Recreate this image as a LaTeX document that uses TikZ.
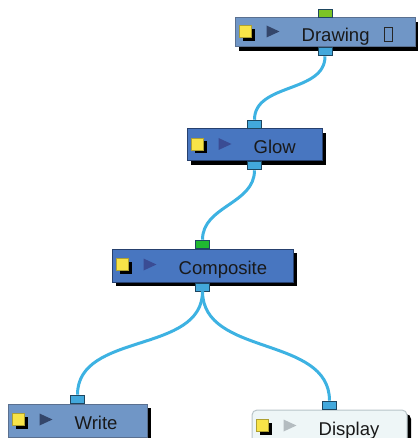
\documentclass[tikz,border=0pt]{standalone}
\usepackage{fontspec}
\setmainfont{Liberation Sans}
\usetikzlibrary{shadows,positioning}

\definecolor{modlight}{HTML}{7096C6}
\definecolor{moddark}{HTML}{4876C0}
\definecolor{modpale}{HTML}{EEF6F7}
\definecolor{edgelight}{HTML}{5A7090}
\definecolor{edgedark}{HTML}{26406E}
\definecolor{edgepale}{HTML}{B8C4C8}
\definecolor{wire}{HTML}{3DB2E2}
\definecolor{portblue}{HTML}{42A8DC}
\definecolor{portedge}{HTML}{1E4660}
\definecolor{portlime}{HTML}{7CC424}
\definecolor{portgreen}{HTML}{20B830}
\definecolor{swatchyellow}{HTML}{F8E448}
\definecolor{tridark}{HTML}{34466A}
\definecolor{triblue}{HTML}{3A4C94}
\definecolor{trigray}{HTML}{B4BCC0}

\begin{document}
\begin{tikzpicture}[x=1pt, y=-1pt, >=latex]
  % Styles
  \tikzstyle{module} = [rectangle, line width=1pt, inner sep=0pt, drop shadow={shadow xshift=4pt, shadow yshift=-4pt, fill=black, opacity=1}]
  \tikzstyle{lightmod} = [module, draw=edgelight, fill=modlight]
  \tikzstyle{darkmod} = [module, draw=edgedark, fill=moddark]
  \tikzstyle{palemod} = [module, draw=edgepale, fill=modpale, rounded corners=5pt]
  \tikzstyle{port} = [draw=portedge, fill=portblue, rectangle, line width=0.8pt, inner sep=0pt, minimum width=14pt, minimum height=8pt]
  \tikzstyle{swatch} = [draw=swatchyellow!70!black, fill=swatchyellow, rectangle, line width=0.6pt, inner sep=0pt, minimum size=12pt, drop shadow={shadow xshift=3.5pt, shadow yshift=-3.5pt, fill=black, opacity=1}]
  \tikzstyle{title} = [anchor=base west, inner sep=0pt, font=\fontsize{18.5}{20}\selectfont, text=black!90]
  \tikzstyle{link} = [draw=wire, line width=3pt]

  \useasboundingbox (0,0) rectangle (417,438);

  % Nodes
  \node [lightmod, minimum width=180pt, minimum height=29pt] (drawing) at (325,32.5) {};
  \node [darkmod, minimum width=135pt, minimum height=32pt] (glow) at (254.5,145) {};
  \node [darkmod, minimum width=181pt, minimum height=33pt] (composite) at (202.5,265.5) {};
  \node [lightmod, minimum width=139pt, minimum height=33pt] (write) at (77.5,420.5) {};
  \node [palemod, minimum width=155pt, minimum height=33pt] (display) at (329.5,426.5) {};

  % Icons and titles
  \foreach \n/\tri/\txt in {drawing/tridark/Drawing, glow/triblue/Glow, composite/triblue/Composite, write/tridark/Write, display/trigray/Display} {
    \node [swatch] (\n-swatch) at ([xshift=11pt, yshift=1pt]\n.west) {};
    \fill [\tri] ([xshift=32pt, yshift=7pt]\n.west) -- ++(13,6) -- ++(-13,6) -- cycle;
    \node [title] (\n-title) at ([xshift=67pt, yshift=-9pt]\n.west) {\txt};
  }
  \node [draw=black!85, line width=1.6pt, rectangle, inner sep=0pt, minimum width=8pt, minimum height=14pt] (drawing-mark) at ([xshift=-27pt, yshift=-2pt]drawing.east) {};

  % Ports
  \node [port, anchor=south, fill=portlime] (drawing-in) at (drawing.north) {};
  \node [port, anchor=north] (drawing-out) at (drawing.south) {};
  \node [port, anchor=south] (glow-in) at (glow.north) {};
  \node [port, anchor=north] (glow-out) at (glow.south) {};
  \node [port, anchor=south, fill=portgreen] (composite-in) at (composite.north) {};
  \node [port, anchor=north] (composite-out) at (composite.south) {};
  \node [port, anchor=south] (write-in) at (write.north) {};
  \node [port, anchor=south] (display-in) at (display.north) {};

  % Connections
  \draw [link] (drawing-out.south) to[out=-90, in=90] (glow-in.north);
  \draw [link] (glow-out.south) to[out=-90, in=90] (composite-in.north);
  \draw [link] (composite-out.south) to[out=-90, in=90] (write-in.north);
  \draw [link] (composite-out.south) to[out=-90, in=90] (display-in.north);

\end{tikzpicture}
\end{document}
